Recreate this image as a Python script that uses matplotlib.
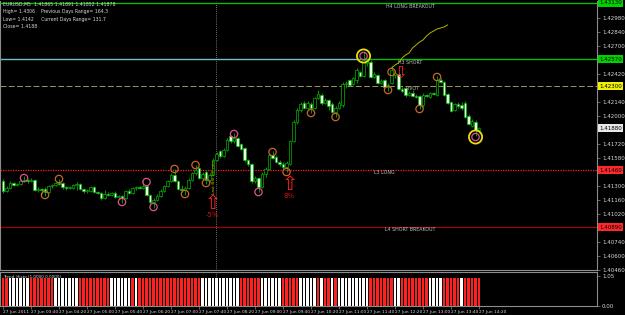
import matplotlib
matplotlib.use("Agg")
import matplotlib.pyplot as plt
import matplotlib.transforms as mtransforms

# ---------------- data (EURUSD M5, 27 Jun 2011 03:00 .. 14:20) ----------------
opens = [1.4135, 1.4125, 1.4128, 1.4133, 1.4131, 1.4132, 1.4135, 1.4136, 1.4135, 1.4136,
         1.4126, 1.4127, 1.4127, 1.4124, 1.4130, 1.4131, 1.4133, 1.4133, 1.4129, 1.4128,
         1.4128, 1.4131, 1.4132, 1.4127, 1.4125, 1.4125, 1.4129, 1.4124, 1.4123, 1.4118,
         1.4122, 1.4121, 1.4123, 1.4119, 1.4120, 1.4118, 1.4125, 1.4123, 1.4128, 1.4129,
         1.4128, 1.4130, 1.4121, 1.4114, 1.4116, 1.4120, 1.4125, 1.4130, 1.4135, 1.4141,
         1.4135, 1.4127, 1.4126, 1.4128, 1.4136, 1.4143, 1.4148, 1.4138, 1.4144, 1.4136,
         1.4141, 1.4156, 1.4165, 1.4160, 1.4166, 1.4180, 1.4175, 1.4178, 1.4172, 1.4168,
         1.4156, 1.4152, 1.4135, 1.4138, 1.4129, 1.4142, 1.4147, 1.4161, 1.4159, 1.4154,
         1.4152, 1.4149, 1.4152, 1.4175, 1.4194, 1.4206, 1.4213, 1.4208, 1.4212, 1.4208,
         1.4218, 1.4221, 1.4213, 1.4216, 1.4212, 1.4204, 1.4208, 1.4211, 1.4232, 1.4236,
         1.4232, 1.4236, 1.4244, 1.4240, 1.4253, 1.4254, 1.4239, 1.4241, 1.4233, 1.4236,
         1.4229, 1.4233, 1.4241, 1.4242, 1.4227, 1.4228, 1.4221, 1.4223, 1.4220, 1.4220,
         1.4211, 1.4221, 1.4219, 1.4223, 1.4221, 1.4236, 1.4234, 1.4222, 1.4214, 1.4206,
         1.4212, 1.4211, 1.4213, 1.4200, 1.4190, 1.4194, 1.4186]
highs = [1.4137, 1.4130, 1.4135, 1.4134, 1.4133, 1.4137, 1.4140, 1.4137, 1.4138, 1.4137,
         1.4129, 1.4128, 1.4129, 1.4131, 1.4132, 1.4134, 1.4137, 1.4134, 1.4130, 1.4130,
         1.4132, 1.4134, 1.4133, 1.4128, 1.4127, 1.4130, 1.4130, 1.4125, 1.4124, 1.4126,
         1.4124, 1.4124, 1.4125, 1.4121, 1.4121, 1.4126, 1.4127, 1.4129, 1.4130, 1.4130,
         1.4135, 1.4131, 1.4122, 1.4118, 1.4122, 1.4127, 1.4131, 1.4136, 1.4143, 1.4147,
         1.4136, 1.4131, 1.4130, 1.4138, 1.4144, 1.4151, 1.4149, 1.4144, 1.4146, 1.4143,
         1.4158, 1.4164, 1.4166, 1.4168, 1.4178, 1.4181, 1.4183, 1.4179, 1.4173, 1.4169,
         1.4157, 1.4153, 1.4140, 1.4139, 1.4144, 1.4149, 1.4163, 1.4165, 1.4161, 1.4156,
         1.4154, 1.4155, 1.4176, 1.4196, 1.4208, 1.4214, 1.4215, 1.4215, 1.4214, 1.4219,
         1.4226, 1.4223, 1.4218, 1.4217, 1.4214, 1.4210, 1.4215, 1.4234, 1.4235, 1.4237,
         1.4239, 1.4248, 1.4245, 1.4264, 1.4258, 1.4256, 1.4244, 1.4242, 1.4237, 1.4237,
         1.4233, 1.4250, 1.4246, 1.4243, 1.4229, 1.4229, 1.4225, 1.4226, 1.4222, 1.4221,
         1.4223, 1.4222, 1.4224, 1.4224, 1.4240, 1.4238, 1.4235, 1.4223, 1.4215, 1.4213,
         1.4214, 1.4214, 1.4215, 1.4202, 1.4197, 1.4196, 1.4189]
lows = [1.4123, 1.4124, 1.4127, 1.4130, 1.4130, 1.4131, 1.4134, 1.4133, 1.4134, 1.4125,
        1.4124, 1.4122, 1.4120, 1.4123, 1.4128, 1.4130, 1.4131, 1.4127, 1.4126, 1.4127,
        1.4127, 1.4126, 1.4126, 1.4123, 1.4123, 1.4124, 1.4123, 1.4122, 1.4116, 1.4117,
        1.4120, 1.4120, 1.4118, 1.4117, 1.4113, 1.4117, 1.4122, 1.4122, 1.4126, 1.4127,
        1.4127, 1.4120, 1.4112, 1.4108, 1.4115, 1.4119, 1.4124, 1.4129, 1.4134, 1.4134,
        1.4126, 1.4124, 1.4121, 1.4127, 1.4135, 1.4141, 1.4137, 1.4136, 1.4132, 1.4134,
        1.4140, 1.4155, 1.4158, 1.4159, 1.4165, 1.4173, 1.4173, 1.4169, 1.4166, 1.4154,
        1.4150, 1.4133, 1.4133, 1.4124, 1.4128, 1.4139, 1.4146, 1.4157, 1.4153, 1.4150,
        1.4146, 1.4144, 1.4151, 1.4174, 1.4192, 1.4204, 1.4207, 1.4207, 1.4203, 1.4207,
        1.4217, 1.4211, 1.4212, 1.4206, 1.4203, 1.4199, 1.4207, 1.4209, 1.4228, 1.4230,
        1.4231, 1.4233, 1.4239, 1.4239, 1.4250, 1.4238, 1.4238, 1.4232, 1.4232, 1.4228,
        1.4225, 1.4232, 1.4238, 1.4226, 1.4224, 1.4219, 1.4220, 1.4219, 1.4218, 1.4207,
        1.4209, 1.4219, 1.4218, 1.4221, 1.4220, 1.4233, 1.4220, 1.4212, 1.4204, 1.4205,
        1.4208, 1.4206, 1.4198, 1.4191, 1.4189, 1.4180, 1.4183]
closes = [1.4125, 1.4128, 1.4133, 1.4131, 1.4132, 1.4135, 1.4136, 1.4135, 1.4136, 1.4126,
          1.4127, 1.4126, 1.4124, 1.4130, 1.4131, 1.4133, 1.4132, 1.4129, 1.4128, 1.4129,
          1.4131, 1.4132, 1.4127, 1.4125, 1.4126, 1.4129, 1.4124, 1.4123, 1.4118, 1.4122,
          1.4121, 1.4123, 1.4119, 1.4120, 1.4118, 1.4125, 1.4123, 1.4128, 1.4129, 1.4128,
          1.4130, 1.4121, 1.4114, 1.4116, 1.4120, 1.4125, 1.4130, 1.4135, 1.4141, 1.4135,
          1.4127, 1.4126, 1.4128, 1.4136, 1.4143, 1.4146, 1.4138, 1.4142, 1.4136, 1.4141,
          1.4156, 1.4162, 1.4160, 1.4166, 1.4176, 1.4175, 1.4178, 1.4170, 1.4167, 1.4156,
          1.4152, 1.4135, 1.4138, 1.4129, 1.4142, 1.4147, 1.4161, 1.4158, 1.4154, 1.4152,
          1.4149, 1.4153, 1.4175, 1.4194, 1.4206, 1.4212, 1.4208, 1.4213, 1.4208, 1.4218,
          1.4222, 1.4213, 1.4216, 1.4210, 1.4204, 1.4208, 1.4213, 1.4232, 1.4233, 1.4231,
          1.4238, 1.4246, 1.4240, 1.4256, 1.4256, 1.4239, 1.4242, 1.4233, 1.4235, 1.4229,
          1.4231, 1.4246, 1.4243, 1.4227, 1.4225, 1.4221, 1.4223, 1.4220, 1.4219, 1.4211,
          1.4221, 1.4220, 1.4223, 1.4222, 1.4236, 1.4234, 1.4221, 1.4213, 1.4205, 1.4212,
          1.4210, 1.4208, 1.4199, 1.4192, 1.4195, 1.4186, 1.4188]

# lower indicator panel: 1 = red bar, 0 = white bar
hist_red = [1, 1, 0, 0, 0, 0, 0, 0, 1, 1, 1, 1, 1, 1, 1, 0, 0, 0, 0, 0, 0, 0,
            1, 1, 1, 1, 1, 1, 1, 1, 1, 0, 0, 0, 0, 0, 0, 1, 0, 1, 1,
            1, 1, 1, 1, 1, 1, 1, 1, 1, 1, 1, 1, 1, 1, 1, 1,
            0, 0, 0, 0, 0, 0, 0, 0, 0, 0, 0, 1, 1, 1, 1, 1, 1, 0, 0, 0, 0, 0, 0,
            1, 1, 1, 1, 1, 0, 0, 0, 0, 0, 1, 0, 1, 1, 0, 1,
            0, 0, 0, 0, 0, 0, 0, 0, 0, 1, 1, 1, 1, 1, 1, 1, 0, 0,
            1, 1, 1, 1, 1, 1, 1, 1, 0, 0, 0, 0, 1, 1, 1, 1, 1, 0, 1, 1, 1, 1, 1]
hist_level = 1.0

# pivot levels
h4_level, h3_level, pivot_level = 1.4313, 1.4257, 1.4230
l3_level, l4_level, bid_price = 1.4146, 1.4089, 1.4188

# swing circles (bar index, price)
pink_idx = [6, 34, 41, 43, 66, 73]
pink_px = [1.4138, 1.4114, 1.4134, 1.4109, 1.4182, 1.4124]
orange_idx = [12, 16, 49, 52, 55, 58, 77, 81, 88, 95, 110, 111, 119, 124]
orange_px = [1.4121, 1.4137, 1.4147, 1.4122, 1.4151, 1.4133, 1.4164, 1.4144,
             1.4203, 1.4199, 1.4226, 1.4244, 1.4207, 1.4239]
big_idx = [103, 135]
big_px = [1.4260, 1.4179]

# projection line (yellow)
proj_idx = [111, 112, 113, 114, 115, 116, 117, 118, 119, 120, 121, 122, 123, 124, 125, 126, 127]
proj_px = [1.4248, 1.4251, 1.4253, 1.4258, 1.4261, 1.4263, 1.4268, 1.4271, 1.4274,
           1.4276, 1.4280, 1.4283, 1.4285, 1.4287, 1.4288, 1.4289, 1.4291]

# signal arrows
up_idx, up_px, up_txt = [60, 82], [1.4113, 1.4132], ["-5%", "8%"]
dn_idx, dn_px = [113.4], [1.4243]

price_ticks = [1.4046, 1.4060, 1.4074, 1.4102, 1.4116, 1.4130, 1.4158, 1.4172,
               1.4200, 1.4214, 1.4242, 1.4270, 1.4284, 1.4298]
time_idx = [0, 8, 16, 24, 32, 40, 48, 56, 64, 72, 80, 88, 96, 104, 112, 120, 128, 136]
time_labels = ["27 Jun 2011", "27 Jun 03:40", "27 Jun 04:20", "27 Jun 05:00", "27 Jun 05:40",
               "27 Jun 06:20", "27 Jun 07:00", "27 Jun 07:40", "27 Jun 08:20", "27 Jun 09:00",
               "27 Jun 09:40", "27 Jun 10:20", "27 Jun 11:00", "27 Jun 11:40", "27 Jun 12:20",
               "27 Jun 13:00", "27 Jun 13:40", "27 Jun 14:20"]
header = ["EURUSD,M5  1.41865 1.41891 1.41852 1.41878",
          "High= 1.4306    Previous Days Range= 164.3",
          "Low= 1.4142     Current Days Range= 131.7",
          "Close= 1.4188"]

# ---------------- figure ----------------
plt.rcParams['font.family'] = ['DejaVu Sans']
W, H = 625, 315
fig = plt.figure(figsize=(W / 100, H / 100), dpi=100, facecolor='black')


def rect(x0, y0, x1, y1):
    return [x0 / W, 1 - y1 / H, (x1 - x0) / W, (y1 - y0) / H]


ax = fig.add_axes(rect(0, 1, 597, 270), facecolor='black')
axl = fig.add_axes(rect(0, 272, 597, 306), facecolor='black', sharex=ax)

GRAY = '#8c8c8c'
TXT = '#d8d8d8'
FS = 4.0
TFS = 3.1

n = len(closes)
xs = list(range(n))
bull_edge = '#00b400'
for i in xs:
    o, h, l, c = opens[i], highs[i], lows[i], closes[i]
    ax.vlines(i, l, h, color=bull_edge, lw=0.6, zorder=3)
    bottom = min(o, c)
    height = max(abs(c - o), 0.00004)
    face = 'black' if c >= o else '#e4ffe4'
    ax.bar(i, height, bottom=bottom, width=0.68, color=face, edgecolor=bull_edge,
           linewidth=0.5, zorder=4)

# levels
ax.axhline(h4_level, color='#00c800', lw=0.9, zorder=2)
ax.axhline(h3_level, color='#00c800', lw=0.9, zorder=2)
ax.hlines(h3_level, -1, 101.2, color='#7fb2e0', lw=0.9, zorder=2)
ax.axhline(pivot_level, color='#9a9a5a', lw=0.7, ls=(0, (6, 2.5)), zorder=2)
ax.axhline(l3_level, color='#ff2020', lw=0.9, ls=(0, (1, 1)), zorder=2)
ax.axhline(l4_level, color='#a80000', lw=0.8, zorder=2)

lvl_fs = 3.4
lvl_col = '#c0c0c0'
ax.text(116.3, h4_level - 0.0003, "H4 LONG BREAKOUT", color=lvl_col, fontsize=lvl_fs, ha='center', va='center')
ax.text(116.3, h3_level - 0.00035, "H3 SHORT", color=lvl_col, fontsize=lvl_fs, ha='center', va='center')
ax.text(117.0, pivot_level - 0.0003, "PIVOT", color=lvl_col, fontsize=lvl_fs, ha='center', va='center', zorder=1)
ax.text(108.9, l3_level - 0.0002, "L3 LONG", color=lvl_col, fontsize=lvl_fs, ha='center', va='center')
ax.text(116.3, l4_level - 0.0002, "L4 SHORT BREAKOUT", color=lvl_col, fontsize=lvl_fs, ha='center', va='center')

# circles
ax.scatter(pink_idx, pink_px, s=28, facecolors='none', edgecolors='#e0508c', linewidths=0.9, zorder=6)
ax.scatter(orange_idx, orange_px, s=28, facecolors='none', edgecolors='#c8642a', linewidths=0.9, zorder=6)
ax.scatter(big_idx, big_px, s=90, facecolors='none', edgecolors='#e8e010', linewidths=1.3, zorder=6)
ax.scatter(big_idx, big_px, s=28, facecolors='none', edgecolors='#e0508c', linewidths=0.9, zorder=6)

# projection line
ax.plot(proj_idx, proj_px, color='#b4b400', lw=0.7, zorder=5)

# arrows
for i, p, t in zip(up_idx, up_px, up_txt):
    ax.text(i, p, "\u21e7", color='#ff2020', fontsize=14, ha='center', va='center', zorder=7)
    ax.text(i - 0.3, p - 0.0012, t, color='#d01010', fontsize=5, ha='center', va='center', zorder=7)
for i, p in zip(dn_idx, dn_px):
    ax.text(i, p, "\u21e9", color='#ff2020', fontsize=12, ha='center', va='center', zorder=7)

# vertical dotted line
vx = 60.9
ax.axvline(vx, color='#9a9a9a', lw=0.6, ls=(0, (1, 1.5)), zorder=1)
axl.axvline(vx, color='#9a9a9a', lw=0.6, ls=(0, (1, 1.5)), zorder=1)
ax.text(vx - 0.6, 1.4139, "Last Bar 05 min", rotation=90, color='#b8b800', fontsize=3.2,
        ha='center', va='center', zorder=7)

# axes styling main
ax.set_xlim(-0.857, 169.7)
ax.set_ylim(1.4046, 1.4315)
ax.yaxis.tick_right()
ax.set_yticks(price_ticks)
ax.set_yticklabels([f"{t:.5f}" for t in price_ticks])
ax.tick_params(axis='y', colors=GRAY, labelcolor=TXT, labelsize=FS, length=2, width=0.5, pad=1.5)
ax.tick_params(axis='x', bottom=False, labelbottom=False)
ax.spines['top'].set_visible(False)
for s in ['left', 'right', 'bottom']:
    ax.spines[s].set_color(GRAY)
    ax.spines[s].set_linewidth(0.8)

# level label boxes on axis
trans = mtransforms.blended_transform_factory(ax.transAxes, ax.transData)
for lv, col in [(h4_level, '#00d000'), (h3_level, '#00d000'), (pivot_level, '#f0f000'),
                (bid_price, '#e8e8e8'), (l3_level, '#ff2828'), (l4_level, '#ff2828')]:
    ax.text(1.004, lv, f"{lv:.5f}", transform=trans, ha='left', va='center', fontsize=FS,
            color='black', clip_on=False, zorder=10,
            bbox=dict(boxstyle='square,pad=0.2', fc=col, ec='none'))

# header text
for k, line in enumerate(header):
    fig.text(3 / W, 1 - (4.5 + k * 7.5) / H, line, color=TXT, fontsize=3.3, ha='left', va='center')

# lower panel
red_x = [i for i in xs if hist_red[i] == 1]
white_x = [i for i in xs if hist_red[i] == 0]
axl.bar(red_x, [hist_level] * len(red_x), width=0.7, color='#ff2020', linewidth=0)
axl.bar(white_x, [hist_level] * len(white_x), width=0.7, color='#ffffff', linewidth=0)
axl.set_ylim(0, 1.2)
axl.yaxis.tick_right()
axl.set_yticks([0.0, 1.05])
axl.set_yticklabels(["0.00", "1.05"])
axl.tick_params(axis='y', colors=GRAY, labelcolor=TXT, labelsize=FS, length=2, width=0.5, pad=1.5)
axl.set_xticks(time_idx)
axl.set_xticklabels(time_labels)
axl.tick_params(axis='x', colors=GRAY, labelcolor=TXT, labelsize=TFS, length=2, width=0.5, pad=1)
for lab in axl.get_xticklabels():
    lab.set_ha('left')
for s in ['left', 'right', 'bottom', 'top']:
    axl.spines[s].set_color(GRAY)
    axl.spines[s].set_linewidth(0.8)
axl.text(0.005, 0.86, "Trend_Histo (1.0000 0.0000)", transform=axl.transAxes, color=TXT,
         fontsize=3.0, ha='left', va='center')

fig.savefig("out.png", dpi=100, facecolor='black')
